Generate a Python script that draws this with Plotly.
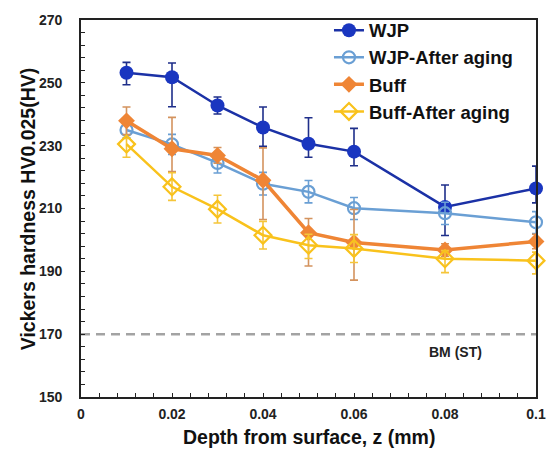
import plotly.graph_objects as go

depth = [0.01, 0.02, 0.03, 0.04, 0.05, 0.06, 0.08, 0.1]

wjp = [253.2, 251.8, 242.8, 235.8, 230.6, 228.1, 210.5, 216.4]
wjp_up = [3.3, 4.5, 2.7, 6.5, 8.3, 7.4, 7.0, 7.1]
wjp_dn = [3.8, 9.4, 2.7, 6.0, 4.3, 4.5, 9.1, 4.6]

wjp_aged = [235.0, 230.4, 224.5, 217.9, 215.3, 210.1, 208.5, 205.6]
wjp_aged_up = [2.5, 3.2, 2.6, 3.6, 3.6, 3.4, 3.5, 3.4]
wjp_aged_dn = [2.5, 3.2, 3.2, 3.6, 3.5, 3.6, 3.6, 3.6]

buff = [237.9, 229.0, 226.9, 219.0, 202.3, 199.2, 196.8, 199.5]
buff_up = [4.4, 10.0, 2.5, 10.3, 4.5, 10.5, 2.0, 2.3]
buff_dn = [4.4, 7.2, 2.5, 12.5, 10.6, 12.0, 2.0, 2.3]

buff_aged = [230.5, 216.9, 209.8, 201.5, 198.3, 197.3, 194.0, 193.4]
buff_aged_up = [1.8, 4.5, 4.4, 4.4, 3.5, 4.4, 2.6, 2.7]
buff_aged_dn = [4.2, 4.3, 4.4, 4.4, 4.2, 4.5, 4.4, 4.2]

bm_value = 170
bm_label = "BM (ST)"

x_ticks = [0, 0.02, 0.04, 0.06, 0.08, 0.1]
x_tick_text = ["0", "0.02", "0.04", "0.06", "0.08", "0.1"]
y_ticks = [150, 170, 190, 210, 230, 250, 270]

BOLD = dict(family="Liberation Sans", weight="bold")

fig = go.Figure()

# base-metal reference line
fig.add_trace(go.Scatter(
    x=[0, 0.1], y=[bm_value, bm_value], mode="lines",
    line=dict(color="#a3a3a3", width=2.5, dash="9px,6px"),
    showlegend=False, hoverinfo="skip"))

series = [
    ("WJP", wjp, wjp_up, wjp_dn, "#1b31a6", "#1a36c0", "#1f2f8a",
     dict(symbol="circle", size=14, color="#1a36c0", line=dict(width=0)), 2.5),
    ("WJP-After aging", wjp_aged, wjp_aged_up, wjp_aged_dn, "#6a9fd4", "#6a9fd4", "#6a9fd4",
     dict(symbol="circle-open", size=12, color="#6a9fd4", line=dict(width=2.2)), 2.5),
    ("Buff", buff, buff_up, buff_dn, "#ef8535", "#ef8535", "#d4935e",
     dict(symbol="diamond", size=13, color="#ef8535", line=dict(width=0)), 3.5),
    ("Buff-After aging", buff_aged, buff_aged_up, buff_aged_dn, "#f9c21c", "#f9c21c", "#f5c53a",
     dict(symbol="diamond-open", size=13, color="#f9c21c", line=dict(width=2.2)), 2.5),
]

for name, vals, up, dn, lcol, mcol, ecol, mk, lw in series:
    fig.add_trace(go.Scatter(
        x=depth, y=vals, name=name, mode="lines+markers",
        line=dict(color=lcol, width=lw),
        marker=mk, cliponaxis=False,
        error_y=dict(type="data", symmetric=False, array=up, arrayminus=dn,
                     color=ecol, thickness=1.6, width=4),
    ))

fig.add_annotation(x=0.0822, y=164.3, xref="x", yref="y", text=bm_label,
                   showarrow=False, xanchor="center", yanchor="middle",
                   font=dict(**BOLD, size=14, color="#222"))

# axis titles
fig.add_annotation(x=-0.117, y=0.5, xref="paper", yref="paper",
                   text="Vickers hardness HV0.025(HV)", textangle=-90, showarrow=False,
                   xanchor="center", yanchor="middle",
                   font=dict(**BOLD, size=19.5, color="#111"))
fig.add_annotation(x=0.5, y=-0.107, xref="paper", yref="paper",
                   text="Depth from surface, z (mm)", showarrow=False,
                   xanchor="center", yanchor="middle",
                   font=dict(**BOLD, size=19.5, color="#111"))

fig.update_layout(
    width=558, height=452,
    margin=dict(l=81, r=16, t=13, b=55),
    paper_bgcolor="white", plot_bgcolor="white",
    font=dict(**BOLD, color="#222"),
    legend=dict(x=0.545, y=1.022, xanchor="left", yanchor="top",
                bgcolor="rgba(0,0,0,0)", font=dict(**BOLD, size=18.5, color="#111"),
                tracegroupgap=0),
    xaxis=dict(range=[0, 0.1], tickvals=x_ticks, ticktext=x_tick_text,
               ticks="inside", ticklen=4, tickwidth=1.3, tickcolor="#222",
               minor=dict(dtick=0.004, tick0=0, ticks="inside", ticklen=4, tickwidth=1.3, tickcolor="#222"),
               showline=True, linecolor="#222", linewidth=1.6, mirror=True,
               showgrid=False, zeroline=False,
               tickfont=dict(**BOLD, size=14, color="#222"), ticklabelstandoff=3),
    yaxis=dict(range=[150, 270], tickvals=y_ticks,
               ticks="inside", ticklen=4, tickwidth=1.3, tickcolor="#222",
               minor=dict(dtick=4, tick0=150, ticks="inside", ticklen=4, tickwidth=1.3, tickcolor="#222"),
               showline=True, linecolor="#222", linewidth=1.6, mirror=True,
               showgrid=False, zeroline=False,
               tickfont=dict(**BOLD, size=14, color="#222"), ticklabelstandoff=14),
)

fig.write_html("out.html")
